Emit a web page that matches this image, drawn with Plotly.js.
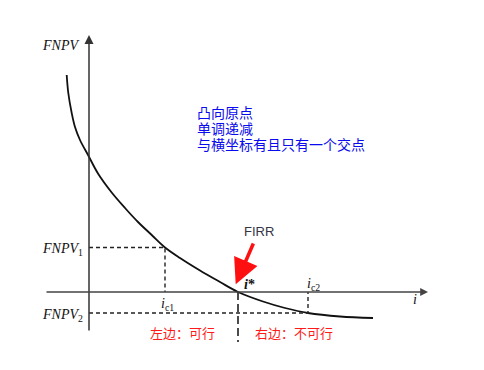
<!DOCTYPE html>
<html>
<head>
<meta charset="utf-8">
<script src="https://cdn.plot.ly/plotly-3.0.1.min.js"></script>
<style>html,body{margin:0;padding:0;background:#fff;}#chart{width:484px;height:370px;}</style>
</head>
<body>
<div id="chart"></div>
<script>
// Schematic FNPV curve (i on x, FNPV on y)
const iValues = [-22.3, -20.7, -17.3, -14, -9, -0.7, 9.3, 22.7, 36, 49, 62.7, 76, 91, 111, 131, 149, 174, 196, 219, 251, 284];
const fnpvValues = [217, 199, 179, 165, 152, 136.5, 118, 99.5, 84, 70, 57, 44.5, 34, 21.5, 10, 0, -9.5, -16, -21, -24.5, -26];

// Key points
const ic1 = 76, fnpv1 = 44.5;
const ic2 = 219, fnpv2 = -21;
const iStar = 149;

// Axis extents
const xAxisExtent = [-44, 339];
const yAxisExtent = [-40, 257];

const blueNotes = ["凸向原点", "单调递减", "与横坐标有且只有一个交点"];
const redNotes = ["左边：可行", "右边：不可行"];

const serif = "Liberation Serif, Times New Roman, serif";
const cjk = "Noto Sans CJK SC, sans-serif";

const traces = [
  {x: iValues, y: fnpvValues, mode: "lines", type: "scatter",
   line: {color: "#111", width: 1.8, shape: "spline", smoothing: 1}, hoverinfo: "skip"},
  // FNPV1 dashed: horizontal then vertical
  {x: [0, ic1, ic1], y: [fnpv1, fnpv1, 0], mode: "lines",
   line: {color: "#222", width: 1.4, dash: "4px,3px"}, hoverinfo: "skip"},
  // FNPV2 dashed
  {x: [0, ic2, ic2], y: [fnpv2, fnpv2, 0], mode: "lines",
   line: {color: "#222", width: 1.4, dash: "4px,3px"}, hoverinfo: "skip"},
  // i* long-dash divider
  {x: [iStar, iStar], y: [0, -50], mode: "lines",
   line: {color: "#111", width: 1.5, dash: "8px,4px"}, hoverinfo: "skip"}
];

const annotations = [
  // axes with arrowheads
  {x: 0, y: yAxisExtent[1], ax: 0, ay: yAxisExtent[0], xref: "x", yref: "y", axref: "x", ayref: "y",
   text: "", showarrow: true, arrowhead: 2, arrowsize: 1.2, arrowwidth: 1.5, arrowcolor: "#333"},
  {x: xAxisExtent[1], y: 0, ax: xAxisExtent[0], ay: 0, xref: "x", yref: "y", axref: "x", ayref: "y",
   text: "", showarrow: true, arrowhead: 2, arrowsize: 1.2, arrowwidth: 1.3, arrowcolor: "#444"},
  // red FIRR arrow
  {x: iStar - 2.3, y: 7.7, ax: iStar + 16, ay: 50, xref: "x", yref: "y", axref: "x", ayref: "y",
   text: "", showarrow: true, arrowhead: 2, arrowsize: 1.45, arrowwidth: 3.5, arrowcolor: "#ff1010"},
  {x: iStar + 21, y: 61, xref: "x", yref: "y", text: "FIRR", showarrow: false,
   font: {family: "Liberation Sans, Arial, sans-serif", size: 13, color: "#333344"}},
  // axis labels
  {x: -8, y: 247, xref: "x", yref: "y", xanchor: "right", text: "<i>FNPV</i>", showarrow: false,
   font: {family: serif, size: 14, color: "#111"}},
  {x: -4, y: fnpv1 - 2, xref: "x", yref: "y", xanchor: "right", text: "<i>FNPV</i><sub>1</sub>", showarrow: false,
   font: {family: serif, size: 14, color: "#111"}},
  {x: -4, y: fnpv2 - 2, xref: "x", yref: "y", xanchor: "right", text: "<i>FNPV</i><sub>2</sub>", showarrow: false,
   font: {family: serif, size: 14, color: "#111"}},
  {x: ic1 + 2, y: -12, xref: "x", yref: "y", text: "<i>i</i><sub>c1</sub>", showarrow: false,
   font: {family: serif, size: 14, color: "#111"}},
  {x: ic2 + 5, y: 8, xref: "x", yref: "y", text: "<i>i</i><sub>c2</sub>", showarrow: false,
   font: {family: serif, size: 14, color: "#111"}},
  {x: iStar + 11, y: 8, xref: "x", yref: "y", text: "<b><i>i</i>*</b>", showarrow: false,
   font: {family: serif, size: 14, color: "#111"}},
  {x: 326, y: -7, xref: "x", yref: "y", text: "<i>i</i>", showarrow: false,
   font: {family: serif, size: 14, color: "#111"}},
  // red notes
  {x: 59, y: -40.5, xref: "x", yref: "y", xanchor: "left", text: redNotes[0], showarrow: false,
   font: {family: cjk, size: 13, color: "#ff1a1a"}},
  {x: 164, y: -40, xref: "x", yref: "y", xanchor: "left", text: redNotes[1], showarrow: false,
   font: {family: cjk, size: 13, color: "#ff1a1a"}}
];

const blueY = [180, 164.5, 148.5];
blueNotes.forEach((t, k) => annotations.push({
  x: 106, y: blueY[k], xref: "x", yref: "y", xanchor: "left", text: t, showarrow: false,
  font: {family: cjk, size: 14, color: "#0a0aee"}
}));

const layout = {
  width: 484, height: 370,
  margin: {l: 0, r: 0, t: 0, b: 0},
  paper_bgcolor: "#fff", plot_bgcolor: "#fff",
  showlegend: false,
  xaxis: {range: [-89, 395], visible: false, fixedrange: true},
  yaxis: {range: [-78, 292], visible: false, fixedrange: true},
  annotations: annotations
};

Plotly.newPlot("chart", traces, layout, {staticPlot: true, displayModeBar: false});
</script>
</body>
</html>
